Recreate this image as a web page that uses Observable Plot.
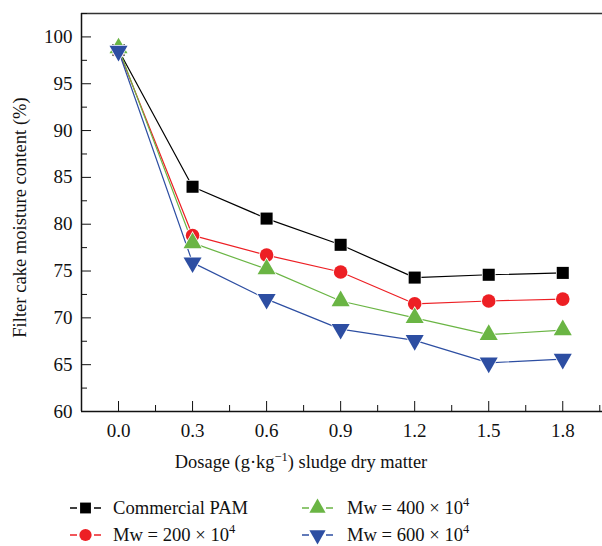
<!DOCTYPE html>
<html><head><meta charset="utf-8">
<script src="https://cdn.jsdelivr.net/npm/d3@7"></script>
<script src="https://cdn.jsdelivr.net/npm/@observablehq/plot@0.6"></script>
<style>
body{margin:0;background:#fff;font-family:"Liberation Serif",serif;}
#chart{width:602px;height:546px;position:relative;overflow:hidden;background:#fff}
#chart svg{display:block}
.legend{position:relative;height:66px;font-size:18.6px;color:#111}
.item{position:absolute;height:24px;line-height:24px;white-space:nowrap}
.glyph{position:absolute;top:0}
sup{font-size:12.5px;position:relative;top:-8px;vertical-align:baseline;line-height:0}
</style></head><body><div id="chart"></div>
<script>
// ---- data ----
const dosage = [0, 0.3, 0.6, 0.9, 1.2, 1.5, 1.8];
const pam    = [98.6, 84.0, 80.6, 77.8, 74.3, 74.6, 74.8];
const mw200  = [98.6, 78.8, 76.7, 74.9, 71.5, 71.8, 72.0];
const mw400  = [98.8, 78.0, 75.2, 71.8, 70.0, 68.2, 68.7];
const mw600  = [98.5, 75.9, 72.0, 68.8, 67.6, 65.2, 65.6];

const seriesKeys   = ["pam", "mw200", "mw400", "mw600"];
const seriesLabels = ["Commercial PAM", "Mw = 200 × 10", "Mw = 400 × 10", "Mw = 600 × 10"];
const seriesExps   = ["", "4", "4", "4"];
const seriesColors = ["#000000", "#ed1f24", "#6ab544", "#2d4ea2"];
const seriesValues = [pam, mw200, mw400, mw600];

const yTicks = [60, 65, 70, 75, 80, 85, 90, 95, 100];
const yMinor = [62.5, 67.5, 72.5, 77.5, 82.5, 87.5, 92.5, 97.5, 102.5];
const xTicks = [0, 0.3, 0.6, 0.9, 1.2, 1.5, 1.8];
const xMinor = [0.15, 0.45, 0.75, 1.05, 1.35, 1.65, 1.95];

const xTitleParts = ["Dosage (g·kg", "−1", ") sludge dry matter"];
const yTitle = "Filter cake moisture content (%)";

// ---- symbols ----
const triDown = {
  draw(context, size) {
    const s3 = Math.sqrt(3);
    const y = -Math.sqrt(size / (s3 * 3));
    context.moveTo(0, -y * 2);
    context.lineTo(-s3 * y, y);
    context.lineTo(s3 * y, y);
    context.closePath();
  }
};
const seriesSymbols = ["square", "circle", "triangle", triDown];
const seriesR = [6.8, 6.8, 6.7, 6.7];

const xTitle = xTitleParts.join("");

const marks = [
  Plot.ruleY([102.5], {stroke: "#333", strokeWidth: 1.5}),
  Plot.ruleY([60], {stroke: "#111", strokeWidth: 1.5}),
  Plot.ruleX([-0.15], {stroke: "#111", strokeWidth: 1.5}),
  Plot.axisY(yTicks, {tickSize: -10, tickPadding: 19, label: null, tickFormat: d => String(d), stroke: "#111", fontSize: 19}),
  Plot.axisY(yMinor, {tickSize: -6, tickPadding: 0, label: null, tickFormat: () => "", stroke: "#111"}),
  Plot.axisX(xTicks, {tickSize: -10, tickPadding: 22, label: null, tickFormat: d3.format(".1f"), stroke: "#111", fontSize: 19}),
  Plot.axisX(xMinor, {tickSize: -6, tickPadding: 0, label: null, tickFormat: () => "", stroke: "#111"})
];

seriesKeys.forEach((k, si) => {
  const rows = dosage.map((d, i) => ({x: d, y: seriesValues[si][i]}));
  marks.push(Plot.line(rows, {x: "x", y: "y", stroke: seriesColors[si], strokeWidth: 1.2}));
});
seriesKeys.forEach((k, si) => {
  const rows = dosage.map((d, i) => ({x: d, y: seriesValues[si][i]}));
  marks.push(Plot.dot(rows, {x: "x", y: "y", symbol: seriesSymbols[si], r: seriesR[si],
    fill: seriesColors[si], stroke: "white", strokeWidth: 1.5, paintOrder: "stroke"}));
});

marks.push(Plot.text([yTitle], {frameAnchor: "left", rotate: -90, dx: -61, dy: 5,
  textAnchor: "middle", lineAnchor: "middle", fontSize: 18.6, fill: "#111"}));
marks.push(Plot.text([xTitle], {frameAnchor: "bottom", dx: -41, dy: 51,
  textAnchor: "middle", lineAnchor: "middle", fontSize: 18.4, fill: "#111"}));

const chart = Plot.plot({
  width: 602, height: 480,
  marginLeft: 81, marginRight: 0, marginTop: 13, marginBottom: 69,
  style: {fontFamily: "Liberation Serif", fontSize: "18px", color: "#111", background: "white"},
  x: {domain: [-0.15, 1.961]},
  y: {domain: [60, 102.5]},
  marks
});

// superscript in x title
d3.select(chart).selectAll("text").filter(function() { return this.textContent === xTitle; })
  .each(function() {
    const t = d3.select(this);
    t.text(null);
    t.append("tspan").text(xTitleParts[0]);
    t.append("tspan").attr("dy", "-7").attr("font-size", "12.5px").text(xTitleParts[1]);
    t.append("tspan").attr("dy", "7").text(xTitleParts[2]);
  });

document.getElementById("chart").appendChild(chart);

// ---- legend ----
const legend = document.createElement("div");
legend.className = "legend";
const pos = [[70, 113, 16], [70, 113, 43], [302, 347, 16], [302, 347, 43]];
seriesKeys.forEach((k, si) => {
  const [gx, tx, top] = pos[si];
  const g = d3.create("svg").attr("class", "glyph").attr("width", 32).attr("height", 24)
    .style("left", gx + "px").style("top", top + "px");
  g.append("line").attr("x1", 0).attr("x2", 7).attr("y1", 12).attr("y2", 12)
    .attr("stroke", seriesColors[si]).attr("stroke-width", 1.5);
  g.append("line").attr("x1", 24).attr("x2", 31).attr("y1", 12).attr("y2", 12)
    .attr("stroke", seriesColors[si]).attr("stroke-width", 1.5);
  const sym = typeof seriesSymbols[si] === "string"
    ? {square: d3.symbolSquare, circle: d3.symbolCircle, triangle: d3.symbolTriangle}[seriesSymbols[si]]
    : seriesSymbols[si];
  const rr = seriesR[si] * 0.9;
  g.append("path").attr("transform", "translate(15.5,12)")
    .attr("d", d3.symbol(sym, Math.PI * rr * rr)())
    .attr("fill", seriesColors[si]);
  legend.appendChild(g.node());
  const t = document.createElement("div");
  t.className = "item";
  t.style.left = tx + "px";
  t.style.top = top + "px";
  t.innerHTML = seriesLabels[si] + (seriesExps[si] ? "<sup>" + seriesExps[si] + "</sup>" : "");
  legend.appendChild(t);
});
document.getElementById("chart").appendChild(legend);
</script>
</body></html>
